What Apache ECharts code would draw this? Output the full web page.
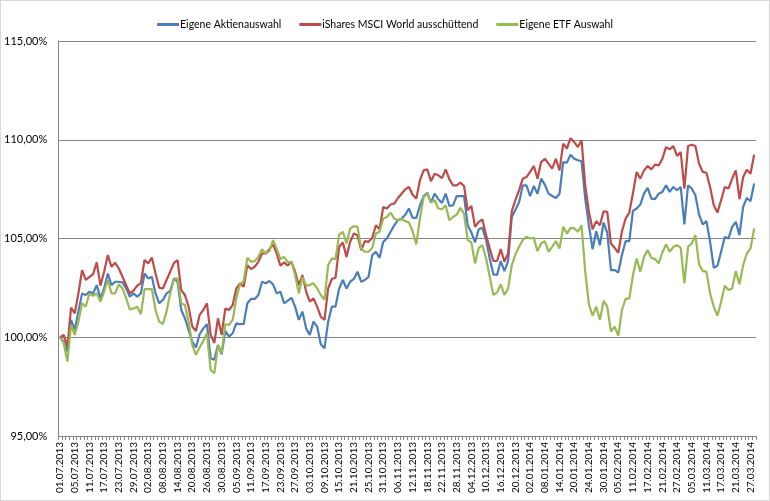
<!DOCTYPE html>
<html><head><meta charset="utf-8">
<script src="https://cdn.jsdelivr.net/npm/echarts@6/dist/echarts.min.js"></script>
<style>html,body{margin:0;padding:0;background:#fff}#main{width:768px;height:499px;border:1px solid #d9d9d9}</style>
</head><body><div id="main"></div>
<script>
const months = {
  "07.2013": "01 02 03 04 05 08 09 10 11 12 15 16 17 18 19 22 23 24 25 26 29 30 31",
  "08.2013": "01 02 05 06 07 08 09 12 13 14 15 16 19 20 21 22 23 26 27 28 29 30",
  "09.2013": "02 03 04 05 06 09 10 11 12 13 16 17 18 19 20 23 24 25 26 27 30",
  "10.2013": "01 02 03 04 07 08 09 10 11 14 15 16 17 18 21 22 23 24 25 28 29 30 31",
  "11.2013": "01 04 05 06 07 08 11 12 13 14 15 18 19 20 21 22 25 26 27 28 29",
  "12.2013": "02 03 04 05 06 09 10 11 12 13 16 17 18 19 20 23 27 30",
  "01.2014": "02 03 06 07 08 09 10 13 14 15 16 17 20 21 22 23 24 27 28 29 30 31",
  "02.2014": "03 04 05 06 07 10 11 12 13 14 17 18 19 20 21 24 25 26 27 28",
  "03.2014": "03 04 05 06 07 10 11 12 13 14 17 18 19 20 21 24 25 26 27 28"
};
const dates = [];
for (const m in months) months[m].split(' ').forEach(d => dates.push(d + '.' + m));

const aktien = [100.00,99.78,99.28,100.88,100.37,101.30,102.22,102.14,102.31,102.22,
102.64,101.97,102.47,103.23,102.64,102.81,102.81,102.78,102.47,102.05,
102.22,102.05,102.22,103.23,102.98,103.06,102.22,101.72,101.89,102.22,
102.34,102.98,102.81,101.38,100.96,100.37,99.78,99.48,100.15,100.45,
100.66,98.94,98.86,99.61,99.14,100.32,100.03,100.20,100.71,100.66,
100.67,101.72,101.94,101.94,102.14,102.81,102.73,102.85,102.68,102.22,
102.31,101.72,101.85,102.00,101.55,100.88,101.30,100.45,100.12,100.79,
100.54,99.65,99.44,100.79,101.55,101.55,102.47,102.90,102.47,102.81,
102.95,103.32,102.81,102.90,103.06,104.16,104.33,104.02,104.83,105.00,
105.34,105.67,105.93,106.00,106.20,106.52,106.04,106.04,106.68,107.15,
107.31,106.82,107.27,106.99,106.80,107.27,106.65,106.68,107.15,107.15,
107.15,105.67,105.30,104.80,105.47,105.54,104.92,103.99,103.18,103.15,
103.86,103.35,103.86,106.09,106.45,106.85,107.69,107.69,107.15,107.66,
107.27,108.03,107.73,107.27,107.15,107.05,107.27,108.87,108.84,109.24,
109.04,108.96,108.91,107.02,105.67,104.46,105.37,104.66,105.81,105.30,
103.40,103.40,103.28,104.16,104.87,104.87,106.40,106.52,106.72,107.27,
107.56,107.02,106.99,107.27,107.36,107.69,107.36,107.61,107.44,107.61,
105.71,107.69,107.53,107.19,106.21,105.71,105.88,104.83,103.52,103.62,
104.33,105.08,105.00,105.59,105.84,105.17,106.60,107.05,106.89,107.78];

const ishares = [100.00,100.12,99.53,101.50,101.21,102.22,103.40,102.90,103.06,103.20,
103.79,102.61,103.32,104.16,103.57,103.77,103.48,103.06,102.64,102.22,
102.36,102.61,102.73,103.91,103.74,104.04,103.23,102.51,102.47,102.90,
103.32,103.75,103.91,102.39,102.14,101.55,100.54,100.32,101.13,101.38,
101.72,100.12,99.70,100.96,100.12,101.46,101.38,101.63,102.47,102.73,
102.56,103.65,103.45,103.57,103.82,104.24,104.24,104.46,104.70,104.24,
103.62,103.79,103.63,103.82,103.32,102.64,103.15,102.31,101.80,101.97,
101.55,101.04,100.88,102.47,102.95,103.01,104.58,104.80,104.07,104.83,
105.25,105.17,104.41,104.87,104.83,105.03,105.67,105.47,106.60,106.52,
106.72,106.77,107.05,107.27,107.49,107.61,107.22,107.02,107.95,108.45,
108.50,107.90,108.28,108.20,108.06,108.50,108.00,107.69,107.69,107.83,
107.66,106.43,106.65,105.59,105.84,105.96,105.17,104.49,103.86,103.86,
104.46,103.82,104.24,106.38,106.95,107.45,108.03,108.11,108.37,108.67,
108.03,108.87,109.04,108.79,108.54,109.04,108.45,109.80,109.55,110.08,
109.88,109.63,109.97,107.69,106.35,105.47,105.88,105.67,106.38,106.35,
104.75,104.53,104.28,105.37,106.01,106.31,107.30,108.37,108.03,108.45,
108.67,108.50,108.74,108.70,109.04,109.63,109.51,109.68,109.18,109.38,
107.53,109.68,109.75,109.68,108.79,108.37,108.33,107.61,106.68,106.31,
106.94,107.61,107.53,108.03,108.45,106.99,108.11,108.48,108.28,109.24];

const etf = [100.00,99.70,98.77,100.62,100.12,100.79,101.72,101.55,102.22,102.10,
102.22,101.80,102.31,102.90,102.22,102.22,102.68,102.47,101.97,101.41,
101.46,101.55,101.16,102.44,102.44,102.44,101.38,100.79,100.67,101.30,
102.22,102.95,102.98,101.72,101.63,100.79,99.61,99.11,99.48,99.81,
100.20,98.35,98.18,99.58,99.19,100.66,100.62,100.88,101.97,102.68,
102.85,104.02,103.82,103.86,104.07,104.46,104.24,104.36,104.92,104.46,
103.96,104.07,103.80,103.82,103.15,102.22,103.06,102.61,102.64,102.73,
102.47,102.14,101.89,103.65,103.99,103.96,105.20,105.34,104.75,105.51,
105.62,105.59,104.49,104.33,104.33,104.53,105.25,105.34,106.01,106.09,
106.31,106.01,105.93,105.98,105.88,105.81,105.37,104.70,106.01,107.10,
107.27,106.82,106.94,106.52,106.48,106.68,105.93,106.09,106.21,106.55,
106.26,104.92,104.80,103.74,104.53,104.66,103.99,103.06,102.14,102.27,
102.68,102.14,102.47,103.65,104.20,104.58,104.92,105.08,105.00,105.03,
104.36,104.75,104.87,104.33,104.58,104.87,104.49,105.59,105.25,105.54,
105.51,105.34,105.67,103.32,101.67,101.09,101.55,100.88,101.84,101.55,
100.29,100.54,100.08,101.38,101.94,101.97,103.15,103.99,103.32,104.07,
104.41,104.02,103.96,103.74,104.29,104.70,104.33,104.58,104.66,104.53,
102.73,104.58,104.75,105.17,103.69,103.35,103.32,102.22,101.55,101.09,
101.80,102.61,102.39,102.47,103.35,102.68,103.65,104.24,104.49,105.51];

const seriesNames = ['Eigene Aktienauswahl', 'iShares MSCI World ausschüttend', 'Eigene ETF Auswahl'];
const colors = ['#4a7ebb', '#be4b48', '#98b954'];

const chart = echarts.init(document.getElementById('main'), null, {renderer: 'canvas'});
const font = 'Lato, "Open Sans", sans-serif';
chart.setOption({
  animation: false,
  color: colors,
  legend: {
    top: 13, left: 'center', itemGap: 18, itemWidth: 22, itemHeight: 3, icon: 'rect',
    textStyle: {fontFamily: font, fontSize: 10.5, color: '#000', padding: [0, 0, 0, -4]},
    data: seriesNames
  },
  grid: {left: 57, right: 13, top: 40, bottom: 64},
  xAxis: {
    type: 'category', data: dates, boundaryGap: true,
    axisLine: {lineStyle: {color: '#868686', width: 1}},
    axisTick: {show: true, interval: 0, length: 4, lineStyle: {color: '#868686'}},
    axisLabel: {interval: 3, rotate: 90, fontFamily: font, fontSize: 10, color: '#000', margin: 6}
  },
  yAxis: {
    type: 'value', min: 95, max: 115, interval: 5,
    axisLine: {show: true, lineStyle: {color: '#868686'}},
    axisTick: {show: false},
    splitLine: {lineStyle: {color: '#868686', width: 1}},
    axisLabel: {fontFamily: font, fontSize: 11, color: '#000', margin: 11,
      formatter: v => v.toFixed(2).replace('.', ',') + '%'}
  },
  series: [aktien, ishares, etf].map((d, i) => ({
    name: seriesNames[i], type: 'line', data: d, showSymbol: false, symbol: 'none',
    lineStyle: {width: 2.2, color: colors[i]}
  }))
});
</script></body></html>
